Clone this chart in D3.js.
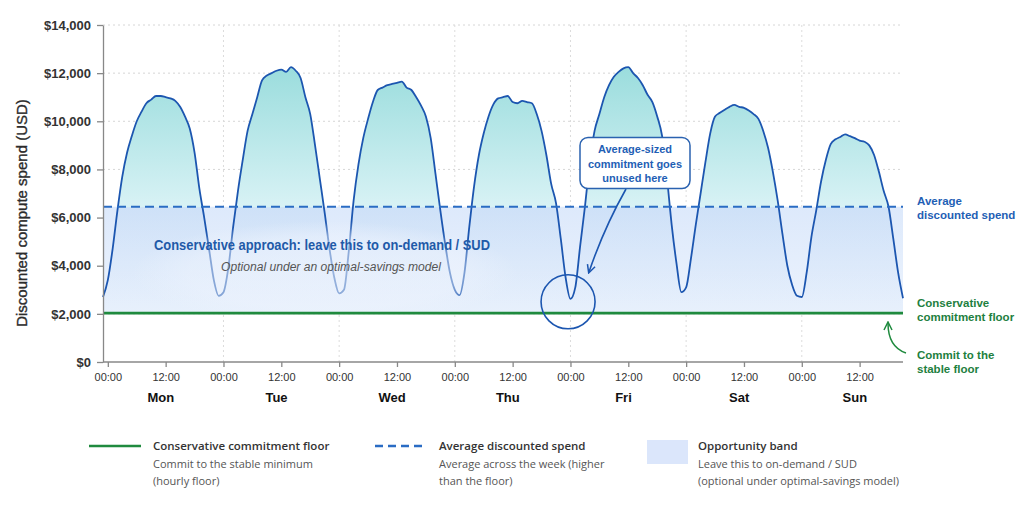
<!DOCTYPE html>
<html>
<head>
<meta charset="utf-8">
<script src="https://cdn.jsdelivr.net/npm/d3@7"></script>
<style>
  body { margin: 0; background: #fff; }
  svg { display: block; font-family: "Liberation Sans", Arial, sans-serif; }
</style>
</head>
<body>
<div id="chart"></div>
<script>
var w = 1024;
var h = 512;

// hourly discounted spend, hour 0 = Mon 00:00 (first point is Sun 23:00)
var startHour = -1;
var spend = [
  2700,
  3400, 4700, 6300, 7700, 8700, 9400, 10000, 10400, 10750, 10900, 11050, 11050,
  11000, 10950, 10850, 10600, 10200, 9700, 8700, 7200, 6000, 4700, 3400, 2750,
  2900, 3900, 5600, 7100, 8400, 9600, 10300, 11000, 11700, 11900, 12000, 12100,
  12150, 12050, 12250, 12100, 11800, 11000, 10300, 9000, 7600, 6200, 4700, 3500,
  2850, 3000, 4600, 6700, 8200, 9300, 10100, 10800, 11300, 11400, 11500, 11550,
  11600, 11650, 11400, 11300, 11000, 10650, 10200, 9300, 7800, 6300, 4900, 3700,
  3000, 2780, 3700, 5600, 7300, 8600, 9500, 10200, 10700, 10950, 11000, 11050,
  10800, 10750, 10850, 10800, 10750, 10300, 9600, 8600, 7400, 6600, 5100, 3500,
  2620, 3100, 4800, 6450, 8300, 9600, 10300, 11000, 11500, 11850, 12050, 12200,
  12250, 12000, 11800, 11500, 11100, 10800, 10200, 9400, 7700, 5700, 4100, 2900,
  3100, 4300, 5700, 7000, 8300, 9500, 10200, 10350, 10480, 10600, 10680, 10600,
  10560, 10450, 10300, 10100, 9600, 8900, 7900, 6700, 5300, 4000, 3200, 2750,
  2700, 3700, 5200, 6300, 7500, 8400, 9050, 9250, 9350, 9460, 9380, 9300,
  9200, 9150, 9000, 8600, 7900, 7100, 6450, 5100, 3700, 2650
];
var floorValue = 2030;
var averageValue = 6450;

var yTicks = [0, 2000, 4000, 6000, 8000, 10000, 12000, 14000];
var xTickHours = [0, 12, 24, 36, 48, 60, 72, 84, 96, 108, 120, 132, 144, 156];
var dayStarts = [0, 24, 48, 72, 96, 120, 144];
var days = ["Mon", "Tue", "Wed", "Thu", "Fri", "Sat", "Sun"];

var legendTitles = ["Conservative commitment floor", "Average discounted spend", "Opportunity band"];
var legendNotes = [
  ["Commit to the stable minimum", "(hourly floor)"],
  ["Average across the week (higher", "than the floor)"],
  ["Leave this to on-demand / SUD", "(optional under optimal-savings model)"]
];

var blue = "#1c56b0";
var dashBlue = "#2a6cc4";
var green = "#1f8a3e";
var labelBlue = "#1f5fb5";
var labelGreen = "#1e8040";

var data = spend.map(function(d, i) { return { hour: startHour + i, value: d }; });

var svg = d3.select("#chart")
  .append("svg")
  .attr("width", w)
  .attr("height", h);

var x = d3.scaleLinear()
  .domain([startHour, startHour + spend.length - 1])
  .range([103, 903]);

var y = d3.scaleLinear()
  .domain([0, 14000])
  .range([362, 25]);

var defs = svg.append("defs");

// fill under the curve: teal at the peaks, pale blue inside the band
var gradTop = y(12500), gradBottom = y(floorValue);
var avgStop = (y(averageValue) - gradTop) / (gradBottom - gradTop);
var areaGrad = defs.append("linearGradient")
  .attr("id", "areaFill")
  .attr("gradientUnits", "userSpaceOnUse")
  .attr("x1", 0).attr("x2", 0)
  .attr("y1", gradTop).attr("y2", gradBottom);
areaGrad.append("stop").attr("offset", 0).attr("stop-color", "#98dcdc");
areaGrad.append("stop").attr("offset", avgStop).attr("stop-color", "#d8f2f5");
areaGrad.append("stop").attr("offset", avgStop + 0.005).attr("stop-color", "#bcd7f4").attr("stop-opacity", 0.45);
areaGrad.append("stop").attr("offset", 1).attr("stop-color", "#cfe1f7").attr("stop-opacity", 0.15);

var bandGrad = defs.append("linearGradient")
  .attr("id", "bandFill")
  .attr("x1", 0).attr("x2", 0).attr("y1", 0).attr("y2", 1);
bandGrad.append("stop").attr("offset", 0).attr("stop-color", "#dde9fb");
bandGrad.append("stop").attr("offset", 1).attr("stop-color", "#ecf3fd");

var fadeGrad = defs.append("radialGradient")
  .attr("id", "fadeFill")
  .attr("cx", 0.5).attr("cy", 0.62).attr("r", 0.5);
fadeGrad.append("stop").attr("offset", 0).attr("stop-color", "#edf3fd").attr("stop-opacity", 0.6);
fadeGrad.append("stop").attr("offset", 0.7).attr("stop-color", "#edf3fd").attr("stop-opacity", 0.5);
fadeGrad.append("stop").attr("offset", 1).attr("stop-color", "#edf3fd").attr("stop-opacity", 0);

function arrowMarker(id, color) {
  defs.append("marker")
    .attr("id", id)
    .attr("viewBox", "0 0 10 10")
    .attr("refX", 8).attr("refY", 5)
    .attr("markerWidth", 10).attr("markerHeight", 10)
    .attr("markerUnits", "userSpaceOnUse")
    .attr("orient", "auto")
    .append("path")
    .attr("d", "M1,1 L9,5 L1,9")
    .attr("fill", "none")
    .attr("stroke", color)
    .attr("stroke-width", 1.5);
}
arrowMarker("arrowBlue", blue);
arrowMarker("arrowGreen", green);

// grid
svg.append("g").selectAll("line")
  .data(yTicks.slice(1))
  .enter()
  .append("line")
  .attr("x1", x.range()[0]).attr("x2", x.range()[1])
  .attr("y1", function(d) { return y(d); })
  .attr("y2", function(d) { return y(d); })
  .style("stroke", "#d6d6d6")
  .style("stroke-dasharray", "2,3");

svg.append("g").selectAll("line")
  .data(dayStarts.slice(1))
  .enter()
  .append("line")
  .attr("x1", function(d) { return x(d); })
  .attr("x2", function(d) { return x(d); })
  .attr("y1", y(14000)).attr("y2", y(0))
  .style("stroke", "#dcdcdc")
  .style("stroke-dasharray", "2,3");

// opportunity band
svg.append("rect")
  .attr("x", x.range()[0])
  .attr("y", y(averageValue))
  .attr("width", x.range()[1] - x.range()[0])
  .attr("height", y(floorValue) - y(averageValue))
  .attr("fill", "url(#bandFill)");

var area = d3.area()
  .x(function(d) { return x(d.hour); })
  .y0(y(floorValue))
  .y1(function(d) { return y(d.value); })
  .curve(d3.curveMonotoneX);

var line = d3.line()
  .x(function(d) { return x(d.hour); })
  .y(function(d) { return y(d.value); })
  .curve(d3.curveMonotoneX);

svg.append("path").datum(data)
  .attr("d", area)
  .attr("fill", "url(#areaFill)");

svg.append("path").datum(data)
  .attr("d", line)
  .attr("fill", "none")
  .attr("stroke", blue)
  .attr("stroke-width", 1.8);

// soft glow behind the band caption
svg.append("rect")
  .attr("x", x(5)).attr("y", y(averageValue) + 2)
  .attr("width", x(85) - x(5))
  .attr("height", y(floorValue) - y(averageValue) - 3)
  .attr("fill", "url(#fadeFill)");

// average and floor lines
svg.append("line")
  .attr("x1", x.range()[0]).attr("x2", x.range()[1])
  .attr("y1", y(averageValue)).attr("y2", y(averageValue))
  .attr("stroke", dashBlue)
  .attr("stroke-width", 2)
  .attr("stroke-dasharray", "9,5");

svg.append("line")
  .attr("x1", x.range()[0]).attr("x2", x.range()[1])
  .attr("y1", y(floorValue)).attr("y2", y(floorValue))
  .attr("stroke", green)
  .attr("stroke-width", 2.6);

// axes
var yAxis = svg.append("g")
  .attr("transform", "translate(" + x.range()[0] + ",0)")
  .call(d3.axisLeft(y)
    .tickValues(yTicks)
    .tickFormat(function(d) { return "$" + d3.format(",")(d); })
    .tickSize(6).tickPadding(6).tickSizeOuter(0));
yAxis.selectAll("path, line").attr("stroke", "#888").attr("stroke-width", 1.3);
yAxis.selectAll("text")
  .attr("fill", "#333")
  .style("font-size", "13px")
  .style("font-weight", "bold")
  .style("font-family", "'Liberation Sans', Arial, sans-serif");

var xAxis = svg.append("g")
  .attr("transform", "translate(0," + y(0) + ")")
  .call(d3.axisBottom(x)
    .tickValues(xTickHours)
    .tickFormat(function(d) { return d % 24 === 0 ? "00:00" : "12:00"; })
    .tickSize(5).tickPadding(6).tickSizeOuter(0));
xAxis.select(".domain").attr("d", "M" + x.range()[0] + ",0H" + x.range()[1]);
xAxis.selectAll("path, line").attr("stroke", "#888").attr("stroke-width", 1.3);
xAxis.selectAll("text")
  .attr("fill", "#333")
  .style("font-size", "11px")
  .style("font-family", "'Liberation Sans', Arial, sans-serif");

svg.append("g").selectAll("text")
  .data(days)
  .enter()
  .append("text")
  .attr("x", function(d, i) { return x(dayStarts[i] + 11); })
  .attr("y", 402)
  .attr("text-anchor", "middle")
  .attr("fill", "#111")
  .style("font-size", "13px")
  .style("font-weight", "bold")
  .text(function(d) { return d; });

svg.append("text")
  .attr("transform", "translate(27," + 213 + ") rotate(-90)")
  .attr("text-anchor", "middle")
  .attr("fill", "#2b2b2b")
  .attr("stroke", "#2b2b2b")
  .attr("stroke-width", 0.35)
  .style("font-size", "15px")
  .text("Discounted compute spend (USD)");

// band caption
svg.append("text")
  .attr("x", 154).attr("y", 250)
  .attr("fill", "#1f5aa8")
  .attr("textLength", 336)
  .attr("lengthAdjust", "spacingAndGlyphs")
  .style("font-size", "15px")
  .style("font-weight", "bold")
  .text("Conservative approach: leave this to on-demand / SUD");

svg.append("text")
  .attr("x", 221).attr("y", 271)
  .attr("fill", "#555")
  .attr("textLength", 220)
  .attr("lengthAdjust", "spacingAndGlyphs")
  .style("font-size", "12.5px")
  .style("font-style", "italic")
  .text("Optional under an optimal-savings model");

// unused-commitment callout
svg.append("circle")
  .attr("cx", x(95.5)).attr("cy", y(2500))
  .attr("r", 27)
  .attr("fill", "none")
  .attr("stroke", blue)
  .attr("stroke-width", 1.6);

svg.append("path")
  .attr("d", "M626,189 Q604,228 589,272")
  .attr("fill", "none")
  .attr("stroke", blue)
  .attr("stroke-width", 1.6)
  .attr("marker-end", "url(#arrowBlue)");

svg.append("rect")
  .attr("x", 580).attr("y", 137.5)
  .attr("width", 110).attr("height", 51)
  .attr("rx", 8)
  .attr("fill", "#fff")
  .attr("stroke", "#2a62b0")
  .attr("stroke-width", 1.5);

svg.append("text")
  .attr("x", 635).attr("y", 153)
  .attr("text-anchor", "middle")
  .attr("fill", labelBlue)
  .style("font-size", "11px")
  .style("font-weight", "bold")
  .selectAll("tspan")
  .data(["Average-sized", "commitment goes", "unused here"])
  .enter()
  .append("tspan")
  .attr("x", 635)
  .attr("dy", function(d, i) { return i === 0 ? 0 : 14.5; })
  .text(function(d) { return d; });

// right side labels
function sideLabel(lines, yPos, color) {
  svg.append("text")
    .attr("x", 917).attr("y", yPos)
    .attr("fill", color)
    .style("font-size", "11.5px")
    .style("font-weight", "bold")
    .selectAll("tspan")
    .data(lines)
    .enter()
    .append("tspan")
    .attr("x", 917)
    .attr("dy", function(d, i) { return i === 0 ? 0 : 14; })
    .text(function(d) { return d; });
}
sideLabel(["Average", "discounted spend"], 204.5, labelBlue);
sideLabel(["Conservative", "commitment floor"], 307, labelGreen);
sideLabel(["Commit to the", "stable floor"], 358.5, labelGreen);

svg.append("path")
  .attr("d", "M906,353 C894,349 888,340 888,323")
  .attr("fill", "none")
  .attr("stroke", green)
  .attr("stroke-width", 1.5)
  .attr("marker-end", "url(#arrowGreen)");

// legend
var legend = svg.append("g").style("font-family", "'Open Sans', 'Noto Sans', sans-serif");
var legendX = [153, 439, 698];

legend.append("line")
  .attr("x1", 89).attr("x2", 141)
  .attr("y1", 446).attr("y2", 446)
  .attr("stroke", green).attr("stroke-width", 2.6);
legend.append("line")
  .attr("x1", 375).attr("x2", 425)
  .attr("y1", 446).attr("y2", 446)
  .attr("stroke", dashBlue).attr("stroke-width", 2.4)
  .attr("stroke-dasharray", "8,5");
legend.append("rect")
  .attr("x", 647).attr("y", 440)
  .attr("width", 41).attr("height", 24)
  .attr("fill", "#dbe6fb");

legend.selectAll(".lt")
  .data(legendTitles)
  .enter()
  .append("text")
  .attr("class", "lt")
  .attr("x", function(d, i) { return legendX[i]; })
  .attr("y", 450)
  .attr("fill", "#333")
  .style("font-size", "11.5px")
  .style("font-weight", 600)
  .text(function(d) { return d; });

legendNotes.forEach(function(notes, i) {
  legend.selectAll(".ln" + i)
    .data(notes)
    .enter()
    .append("text")
    .attr("class", "ln" + i)
    .attr("x", legendX[i])
    .attr("y", function(d, j) { return 468 + j * 16.5; })
    .attr("fill", "#555")
    .style("font-size", "11px")
    .text(function(d) { return d; });
});
</script>
</body>
</html>
